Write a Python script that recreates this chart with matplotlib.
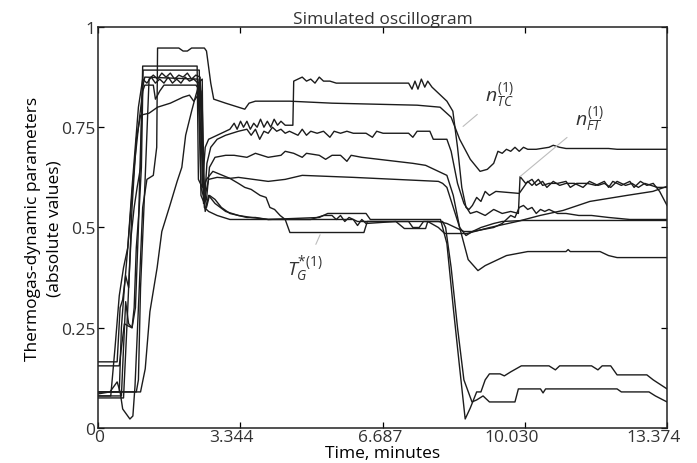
import matplotlib
matplotlib.use("Agg")
import matplotlib.pyplot as plt
from matplotlib.transforms import ScaledTranslation


# --------------------------------------------------
# 1. DATA (time in minutes, absolute values)
# --------------------------------------------------

# n_TC curve
a_t = [0, 0.28, 0.45, 0.52, 0.58, 0.75, 0.82, 0.87, 0.95, 1.05, 1.15, 1.30, 1.38, 1.40, 1.9, 2.0,
       2.1, 2.2, 2.5, 2.55, 2.65, 2.72, 3.0, 3.3, 3.45, 3.55, 3.7, 4.5, 5.5, 7.5, 8.04, 8.3, 8.5,
       8.75, 8.98, 9.15, 9.3, 9.4, 9.5, 9.6, 9.7, 9.8, 9.9, 10.0, 10.1, 10.3, 10.6, 10.7, 10.85,
       11.0, 12.0, 12.2, 13.374]
a_v = [0.085, 0.09, 0.115, 0.09, 0.0475, 0.0225, 0.03, 0.105, 0.30, 0.55, 0.62, 0.63, 0.70, 0.9475,
       0.9475, 0.94, 0.94, 0.9475, 0.9475, 0.94, 0.86, 0.82, 0.81, 0.80, 0.795, 0.81, 0.815, 0.815,
       0.81, 0.805, 0.80, 0.775, 0.72, 0.67, 0.64, 0.645, 0.66, 0.69, 0.685, 0.695, 0.69, 0.70,
       0.69, 0.70, 0.695, 0.695, 0.70, 0.705, 0.70, 0.697, 0.697, 0.695, 0.695]

# n_FT curve (jumps up at ~4.6 min)
b_t = [0, 0.45, 0.52, 0.58, 0.65, 0.72, 0.78, 0.85, 0.92, 1.0, 1.05, 2.33, 2.36, 2.45, 2.52, 2.6,
       2.8, 3.0, 3.1, 3.2, 3.27, 3.35, 3.42, 3.5, 3.58, 3.66, 3.74, 3.82, 3.9, 3.98, 4.06, 4.14,
       4.22, 4.3, 4.4, 4.58, 4.6, 4.7, 4.8, 4.9, 5.0, 5.1, 5.2, 5.3, 5.45, 5.6, 7.2, 7.3, 7.38,
       7.45, 7.52, 7.6, 7.68, 7.75, 7.85, 8.0, 8.2, 8.34, 8.45, 8.55, 8.65, 8.72, 8.8, 8.9, 9.0,
       9.1, 9.2, 9.35, 9.9, 10.0, 10.1, 10.2, 10.35, 10.45, 10.6, 10.8, 11.0, 11.1, 11.25, 11.5,
       11.7, 11.9, 12.0, 12.1, 12.3, 12.5, 12.6, 12.75, 12.9, 13.05, 13.2, 13.374]
b_v = [0.165, 0.165, 0.30, 0.32, 0.38, 0.35, 0.48, 0.55, 0.60, 0.65, 0.9025, 0.9025, 0.62, 0.60,
       0.70, 0.72, 0.73, 0.74, 0.745, 0.76, 0.745, 0.765, 0.75, 0.765, 0.745, 0.76, 0.75, 0.77,
       0.75, 0.765, 0.75, 0.77, 0.755, 0.765, 0.755, 0.755, 0.865, 0.87, 0.875, 0.865, 0.87, 0.86,
       0.875, 0.865, 0.865, 0.86, 0.86, 0.86, 0.845, 0.865, 0.845, 0.87, 0.85, 0.865, 0.85, 0.835,
       0.815, 0.79, 0.70, 0.60, 0.55, 0.545, 0.555, 0.575, 0.565, 0.59, 0.58, 0.59, 0.585, 0.60,
       0.615, 0.605, 0.62, 0.605, 0.61, 0.61, 0.615, 0.60, 0.61, 0.61, 0.605, 0.615, 0.60, 0.615,
       0.605, 0.615, 0.60, 0.615, 0.605, 0.61, 0.59, 0.555]

c_t = [0, 0.5, 0.55, 0.62, 0.7, 0.8, 0.85, 0.9, 0.97, 1.02, 1.06, 2.38, 2.42, 2.5, 2.56, 2.65,
       2.8, 3.0, 3.3, 3.5, 3.6, 3.7, 3.8, 3.9, 4.0, 4.1, 4.2, 4.3, 4.4, 4.5, 4.7, 4.8, 4.9, 5.0,
       5.15, 5.3, 5.45, 5.55, 5.7, 5.85, 6.0, 6.3, 6.45, 6.55, 6.7, 7.3, 7.4, 7.5, 7.8, 7.88, 8.2,
       8.3, 8.45, 8.6, 8.75, 8.9, 9.1, 9.3, 9.5, 9.7, 9.88, 9.92, 10.05, 10.2, 10.3, 10.45, 10.55,
       10.7, 10.85, 11.0, 11.2, 11.4, 11.55, 11.75, 11.9, 12.05, 12.2, 12.4, 12.55, 12.7, 12.85,
       13.0, 13.15, 13.374]
c_v = [0.155, 0.155, 0.20, 0.26, 0.255, 0.25, 0.30, 0.45, 0.55, 0.65, 0.8925, 0.8925, 0.58, 0.56,
       0.66, 0.70, 0.72, 0.73, 0.74, 0.745, 0.73, 0.745, 0.72, 0.74, 0.735, 0.75, 0.74, 0.745,
       0.735, 0.74, 0.73, 0.745, 0.73, 0.74, 0.735, 0.74, 0.725, 0.74, 0.735, 0.74, 0.735, 0.735,
       0.725, 0.74, 0.735, 0.735, 0.725, 0.74, 0.74, 0.72, 0.72, 0.69, 0.61, 0.56, 0.535, 0.54,
       0.53, 0.545, 0.535, 0.54, 0.535, 0.627, 0.61, 0.62, 0.605, 0.615, 0.60, 0.615, 0.605, 0.61,
       0.61, 0.60, 0.615, 0.605, 0.61, 0.60, 0.615, 0.605, 0.61, 0.60, 0.61, 0.605, 0.60, 0.60]

d_t = [0, 0.3, 0.4, 0.5, 0.6, 0.7, 0.8, 0.95, 1.05, 1.15, 1.25, 1.35, 1.45, 1.55, 1.65, 1.75,
       1.85, 1.95, 2.05, 2.15, 2.25, 2.35, 2.45, 2.48, 2.55, 2.62, 2.75, 3.0, 3.2, 3.5, 3.7, 4.0,
       4.3, 4.4, 4.6, 4.8, 4.9, 5.2, 5.35, 5.5, 5.7, 5.85, 5.95, 6.2, 6.6, 7.0, 7.4, 7.7, 7.9,
       8.1, 8.2, 8.35, 8.5, 8.7, 8.93, 9.1, 9.3, 9.6, 10.1, 11.0, 11.05, 11.1, 11.8, 12.0, 12.2,
       13.374]
d_v = [0.08, 0.08, 0.20, 0.33, 0.40, 0.45, 0.60, 0.80, 0.87, 0.86, 0.875, 0.86, 0.87, 0.86, 0.875,
       0.86, 0.87, 0.86, 0.875, 0.865, 0.87, 0.86, 0.87, 0.56, 0.57, 0.65, 0.675, 0.68, 0.68,
       0.675, 0.685, 0.675, 0.68, 0.69, 0.685, 0.675, 0.685, 0.68, 0.67, 0.68, 0.68, 0.665, 0.68,
       0.675, 0.67, 0.665, 0.66, 0.655, 0.645, 0.635, 0.63, 0.58, 0.50, 0.42, 0.3925, 0.405,
       0.415, 0.43, 0.44, 0.44, 0.445, 0.44, 0.44, 0.43, 0.425, 0.425]

e_t = [0, 0.5, 0.55, 0.62, 0.7, 0.85, 0.95, 1.05, 1.1, 1.3, 1.35, 1.45, 1.55, 2.3, 2.42, 2.48,
       2.55, 2.7, 3.1, 3.3, 4.0, 4.4, 4.8, 6.0, 7.0, 8.0, 8.1, 8.2, 8.35, 8.5, 8.65, 8.8, 9.3,
       9.5, 9.6, 9.7, 9.8, 9.9, 10.0, 10.1, 10.2, 10.3, 10.4, 10.5, 10.6, 10.8, 11.0, 11.3, 11.6,
       12.0, 12.5, 13.0, 13.374]
e_v = [0.09, 0.09, 0.25, 0.35, 0.45, 0.65, 0.75, 0.84, 0.855, 0.855, 0.82, 0.84, 0.855, 0.855,
       0.84, 0.60, 0.62, 0.64, 0.6225, 0.625, 0.615, 0.62, 0.63, 0.625, 0.62, 0.615, 0.61, 0.60,
       0.55, 0.50, 0.48, 0.49, 0.50, 0.51, 0.52, 0.53, 0.525, 0.55, 0.555, 0.545, 0.55, 0.535,
       0.545, 0.54, 0.545, 0.535, 0.535, 0.53, 0.53, 0.525, 0.52, 0.52, 0.52]

f_t = [0, 0.6, 0.7, 0.8, 0.9, 1.0, 1.2, 1.4, 1.7, 1.9, 2.0, 2.15, 2.25, 2.35, 2.45, 2.5, 2.6,
       2.8, 3.1, 4.0, 5.2, 5.4, 6.3, 6.4, 7.0, 8.05, 8.1, 8.2, 8.35, 8.5, 8.63, 8.75, 8.9, 9.0,
       9.1, 9.2, 9.45, 9.55, 9.7, 9.95, 10.6, 10.75, 10.85, 11.6, 11.75, 11.85, 12.05, 12.2, 12.9,
       13.05, 13.374]
f_v = [0.075, 0.075, 0.30, 0.55, 0.72, 0.78, 0.785, 0.80, 0.81, 0.82, 0.825, 0.83, 0.815, 0.83,
       0.70, 0.55, 0.54, 0.53, 0.52, 0.52, 0.525, 0.535, 0.535, 0.52, 0.52, 0.52, 0.50, 0.46,
       0.30, 0.15, 0.0225, 0.05, 0.09, 0.09, 0.12, 0.135, 0.135, 0.13, 0.14, 0.155, 0.155, 0.145,
       0.155, 0.155, 0.145, 0.155, 0.155, 0.1325, 0.1325, 0.12, 0.0975]

g_t = [0, 0.9, 0.95, 1.0, 1.1, 1.2, 1.3, 1.4, 1.5, 1.6, 1.7, 1.8, 1.9, 2.0, 2.1, 2.2, 2.3, 2.4,
       2.45, 2.52, 2.6, 2.75, 3.0, 3.3, 3.6, 4.0, 5.0, 6.0, 6.1, 6.2, 6.3, 7.0, 7.3, 7.4, 7.55,
       7.65, 8.1, 8.17, 8.3, 8.45, 8.6, 8.79, 8.9, 9.05, 9.2, 9.8, 9.88, 10.4, 10.46, 10.52, 12.2,
       12.3, 12.95, 13.1, 13.374]
g_v = [0.09, 0.09, 0.12, 0.35, 0.60, 0.87, 0.88, 0.87, 0.885, 0.875, 0.885, 0.87, 0.88, 0.875,
       0.885, 0.87, 0.88, 0.875, 0.62, 0.54, 0.58, 0.56, 0.54, 0.53, 0.525, 0.52, 0.52, 0.52,
       0.505, 0.52, 0.51, 0.515, 0.515, 0.50, 0.50, 0.515, 0.515, 0.50, 0.40, 0.25, 0.12, 0.065,
       0.07, 0.08, 0.065, 0.065, 0.0975, 0.0975, 0.0875, 0.0975, 0.0975, 0.09, 0.09, 0.08, 0.065]

# T_G* curve
h_t = [0, 0.55, 0.6, 0.65, 0.72, 0.8, 0.88, 0.95, 1.0, 1.05, 1.1, 2.35, 2.42, 2.5, 2.6, 2.8,
       3.1, 3.3, 3.45, 3.6, 3.81, 3.95, 4.04, 4.15, 4.28, 4.4, 4.51, 6.25, 6.33, 7.0, 7.2, 7.25,
       7.7, 7.75, 8.0, 8.15, 8.67, 9.21, 9.85, 10.39, 10.93, 11.56, 12.43, 13.04, 13.374]
h_v = [0.08, 0.08, 0.20, 0.315, 0.26, 0.25, 0.30, 0.50, 0.70, 0.85, 0.875, 0.87, 0.60, 0.57,
       0.62, 0.625, 0.6225, 0.61, 0.60, 0.595, 0.58, 0.575, 0.55, 0.545, 0.53, 0.52, 0.4875,
       0.4875, 0.515, 0.515, 0.4975, 0.4975, 0.4975, 0.515, 0.50, 0.485, 0.485, 0.50, 0.515,
       0.53, 0.5425, 0.565, 0.58, 0.59, 0.6025]

i_t = [0, 0.9, 1.0, 1.11, 1.22, 1.39, 1.5, 1.69, 1.86, 1.97, 2.06, 2.2, 2.3, 2.4, 2.45, 2.5,
       2.55, 2.62, 2.75, 2.9, 3.1, 3.3, 3.5, 3.7, 4.0, 4.5, 5.0, 5.3, 5.5, 5.6, 5.7, 5.8, 5.9,
       6.1, 7.0, 8.0, 8.2, 8.4, 8.6, 8.8, 9.0, 9.3, 9.5, 10.0, 13.374]
i_v = [0.09, 0.09, 0.09, 0.1475, 0.29, 0.40, 0.49, 0.555, 0.615, 0.65, 0.73, 0.79, 0.83, 0.865,
       0.80, 0.60, 0.55, 0.58, 0.57, 0.55, 0.535, 0.53, 0.525, 0.525, 0.52, 0.52, 0.52, 0.53,
       0.53, 0.52, 0.53, 0.515, 0.525, 0.515, 0.515, 0.515, 0.51, 0.50, 0.49, 0.49, 0.50, 0.51,
       0.515, 0.5175, 0.5175]

curves = [
    (a_t, a_v), (b_t, b_v), (c_t, c_v), (d_t, d_v), (e_t, e_v),
    (f_t, f_v), (g_t, g_v), (h_t, h_v), (i_t, i_v),
]

x_ticks = [0, 3.344, 6.687, 10.030, 13.374]
x_tick_labels = ["0", "3.344", "6.687", "10.030", "13.374"]
x_label_shift_px = [1, -9, -2, -13, -13]

y_ticks = [0, 0.25, 0.5, 0.75, 1]
y_tick_labels = ["0", "0.25", "0.5", "0.75", "1"]

# label text, label position, point on curve
labels = [
    (r"$n_{TC}^{(1)}$", (9.45, 0.83), (8.58, 0.752)),
    (r"$n_{FT}^{(1)}$", (11.56, 0.772), (9.92, 0.627)),
    (r"$T_G^{*(1)}$", (4.87, 0.398), (5.22, 0.482)),
]


# --------------------------------------------------
# 2. STYLE
# --------------------------------------------------

plt.rcParams["font.family"] = ["Open Sans", "DejaVu Sans"]
plt.rcParams["mathtext.fontset"] = "custom"
plt.rcParams["mathtext.rm"] = "Open Sans"
plt.rcParams["mathtext.it"] = "Open Sans:italic"
plt.rcParams["text.color"] = "#333333"

fs = 12.5
line_color = "#1c1c1c"


# --------------------------------------------------
# 3. PLOT
# --------------------------------------------------

fig = plt.figure(figsize=(6.97, 4.64), dpi=100)
ax = fig.add_axes([0.1406, 0.0754, 0.8164, 0.8643])

for t, v in curves:
    ax.plot(t, v, color=line_color, lw=1.0)

for text, text_xy, point_xy in labels:
    ax.annotate(
        text,
        xy=point_xy,
        xytext=text_xy,
        ha="center",
        va="center",
        fontsize=14,
        color="#333333",
        arrowprops=dict(arrowstyle="-", color="#bdbdbd", lw=0.8,
                        shrinkA=5, shrinkB=0),
    )

ax.set_xlim(0, 13.374)
ax.set_ylim(0, 1)

ax.set_xticks(x_ticks)
ax.set_xticklabels(x_tick_labels, fontsize=fs, color="#333333")
ax.set_yticks(y_ticks)
ax.set_yticklabels(y_tick_labels, fontsize=fs, color="#333333")

ax.tick_params(direction="in", top=True, right=True, length=4, width=0.9)
ax.tick_params(axis="x", pad=1)
ax.tick_params(axis="y", pad=2)

for tick, dx in zip(ax.xaxis.get_major_ticks(), x_label_shift_px):
    tick.label1.set_transform(
        tick.label1.get_transform()
        + ScaledTranslation(dx / 100, 0, fig.dpi_scale_trans)
    )

for spine in ax.spines.values():
    spine.set_linewidth(1.1)
    spine.set_color("#222222")

ax.set_title("Simulated oscillogram", fontsize=fs, pad=3, color="#333333")
ax.set_xlabel("Time, minutes", fontsize=fs, labelpad=0)
ax.set_ylabel("Thermogas-dynamic parameters\n(absolute values)",
              fontsize=fs, labelpad=-1, linespacing=1.4)


# --------------------------------------------------
# 4. SAVE
# --------------------------------------------------

fig.savefig("out.png", dpi=100)
